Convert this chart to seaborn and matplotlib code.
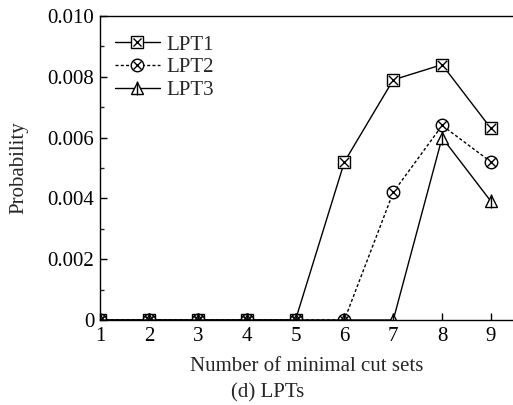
import matplotlib
matplotlib.use("Agg")
import matplotlib.pyplot as plt
import seaborn as sns
import pandas as pd
from matplotlib.legend_handler import HandlerTuple
from matplotlib.lines import Line2D

x_vals = [1, 2, 3, 4, 5, 6, 7, 8, 9]
lpt1 = [0, 0, 0, 0, 0, 0.0052, 0.0079, 0.0084, 0.0063]
lpt2 = [0, 0, 0, 0, 0, 0, 0.0042, 0.0064, 0.0052]
lpt3 = [0, 0, 0, 0, 0, 0, 0, 0.0060, 0.0039]
series_names = ["LPT1", "LPT2", "LPT3"]
y_ticks = [0, 0.002, 0.004, 0.006, 0.008, 0.010]
y_tick_labels = ["0", "0.002", "0.004", "0.006", "0.008", "0.010"]

df = pd.DataFrame({
    "x": x_vals * 3,
    "y": lpt1 + lpt2 + lpt3,
    "series": sum([[n] * len(x_vals) for n in series_names], []),
})

sns.set_theme(style="ticks")
plt.rcParams["font.family"] = ["Liberation Serif", "DejaVu Serif"]

FS = 15

fig = plt.figure(figsize=(5.13, 4.05), dpi=100)
ax = fig.add_axes([100 / 513, 1 - 320 / 405, 1 - 100 / 513, (320 - 16) / 405])

base_markers = {"LPT1": "s", "LPT2": "o", "LPT3": "^"}
over_markers = {"LPT1": "x", "LPT2": "x", "LPT3": "|"}
dashes = {"LPT1": "", "LPT2": (2.2, 1.6), "LPT3": ""}
pal = {n: "black" for n in series_names}

sns.lineplot(data=df, x="x", y="y", hue="series", style="series",
             palette=pal, markers=base_markers, dashes=dashes,
             markersize=9, markerfacecolor="white", markeredgecolor="black",
             markeredgewidth=1.0, linewidth=1.0, legend=False, ax=ax)

sizes = {"LPT1": 45, "LPT2": 40, "LPT3": 110}
for n in series_names:
    sub = df[df["series"] == n]
    sns.scatterplot(data=sub, x="x", y="y", marker=over_markers[n], color="black",
                    s=sizes[n], linewidth=1.0, legend=False, ax=ax, zorder=5)

ax.set_xlim(1, 9.45)
ax.set_ylim(0, 0.010)
ax.set_xticks(x_vals)
ax.set_xticklabels([str(v) for v in x_vals])
ax.set_yticks(y_ticks)
ax.set_yticklabels(y_tick_labels)
ax.set_yticks([0.001, 0.003, 0.005, 0.007, 0.009], minor=True)
ax.tick_params(axis="both", which="major", direction="in", length=5, width=1,
               labelsize=FS, colors="black", pad=4)
ax.tick_params(axis="x", which="major", pad=5)
ax.tick_params(axis="y", which="minor", direction="in", length=3, width=1)
for s in ["left", "bottom", "top"]:
    ax.spines[s].set_linewidth(1.0)
    ax.spines[s].set_color("black")
ax.spines["right"].set_visible(False)

ax.set_xlabel("Number of minimal cut sets", fontsize=FS, labelpad=8)
ax.set_ylabel("Probability", fontsize=FS, labelpad=14)
fig.text(268 / 513, 1 - 393 / 405, "(d) LPTs", fontsize=FS,
         ha="center", va="center")

handles = []
for n in series_names:
    base = Line2D([], [], color="black", linewidth=1.0,
                  linestyle="-" if n != "LPT2" else (0, (2.2, 1.6)),
                  marker=base_markers[n], markersize=9, markerfacecolor="white",
                  markeredgecolor="black", markeredgewidth=1.0)
    over = Line2D([], [], color="black", linestyle="none", marker=over_markers[n],
                  markersize=6 if n != "LPT3" else 10, markeredgewidth=1.0)
    handles.append((base, over))
ax.legend(handles, series_names, handler_map={tuple: HandlerTuple(ndivide=1)},
          loc="upper left", bbox_to_anchor=(0.015, 0.965), frameon=False,
          fontsize=FS, handlelength=2.2, handletextpad=0.3, labelspacing=0.15,
          borderaxespad=0)

fig.savefig("out.png", dpi=100)
